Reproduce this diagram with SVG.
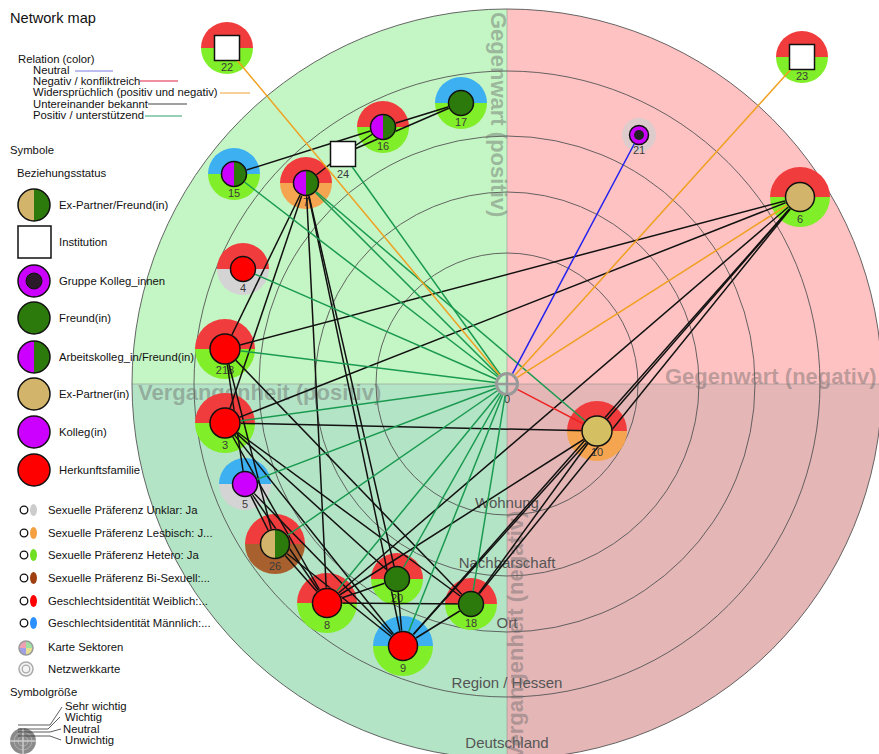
<svg xmlns="http://www.w3.org/2000/svg" xmlns:xlink="http://www.w3.org/1999/xlink" width="879" height="754" viewBox="0 0 879 754">
<style>
text{font-family:"Liberation Sans",Arial,sans-serif;}
.t{font-size:11.3px;fill:#111;}
.lbl{font-size:11px;fill:#3a3a3a;text-anchor:middle;}
.ring{fill:none;stroke:#555;stroke-width:0.9;}
.rl{font-size:15px;fill:#555;text-anchor:middle;}
.quad{font-size:22px;font-weight:bold;fill:#6a6a6a;fill-opacity:0.45;}
.e line{stroke-width:1.5;fill:none;}
.k{stroke:#111;}
.g{stroke:#1a9a50;}
.o{stroke:#f0a020;}
.b{stroke:#2222ee;}
.r{stroke:#ee2222;}
.fr{fill:#f03c3c;}
.fg{fill:#80ee28;}
.fb{fill:#3cb0f0;}
.fo{fill:#f5a550;}
.fy{fill:#d4d4d4;}
.fbr{fill:#a8602e;}
.cr{fill:#ff0000;stroke:#111;stroke-width:1.5;}
.cg{fill:#2d7a0c;stroke:#111;stroke-width:1.5;}
.cm{fill:#cc00ff;stroke:#111;stroke-width:1.5;}
.ct{fill:#d2b46a;stroke:#111;stroke-width:1.5;}
.hm{fill:#cc00ff;}
.hg{fill:#2d7a0c;}
.ht{fill:#d2b46a;}
.co{fill:none;stroke:#111;stroke-width:1.5;}
.sq{fill:#fff;stroke:#111;stroke-width:1.5;}
.lg{stroke-width:1.2;}
</style>
<defs>
<path id="t30" d="M-30,0 A30,30 0 0 1 30,0 Z"/>
<path id="b30" d="M-30,0 A30,30 0 0 0 30,0 Z"/>
<path id="t26" d="M-26,0 A26,26 0 0 1 26,0 Z"/>
<path id="b26" d="M-26,0 A26,26 0 0 0 26,0 Z"/>
<path id="L15" d="M0,-15 A15,15 0 0 0 0,15 Z"/>
<path id="R15" d="M0,-15 A15,15 0 0 1 0,15 Z"/>
<path id="L13" d="M0,-12.5 A12.5,12.5 0 0 0 0,12.5 Z"/>
<path id="R13" d="M0,-12.5 A12.5,12.5 0 0 1 0,12.5 Z"/>
<path id="L16" d="M0,-16 A16,16 0 0 0 0,16 Z"/>
<path id="R16" d="M0,-16 A16,16 0 0 1 0,16 Z"/>
<mask id="edgemask" maskUnits="userSpaceOnUse" x="0" y="0" width="879" height="754">
<rect x="0" y="0" width="879" height="754" fill="#fff"/>
<g fill="#000">
<rect x="214" y="35" width="26" height="26"/>
<rect x="789" y="44" width="26" height="26"/>
<rect x="330" y="141" width="26" height="26"/>
<circle cx="639" cy="135" r="10"/>
<circle cx="507" cy="384" r="12"/>
<circle cx="800" cy="197" r="15.5"/>
<circle cx="461" cy="103" r="13.3"/>
<circle cx="383" cy="127" r="13.3"/>
<circle cx="234" cy="174" r="13.3"/>
<circle cx="306" cy="183" r="13.3"/>
<circle cx="243" cy="269" r="13.3"/>
<circle cx="225" cy="349" r="15.7"/>
<circle cx="225" cy="423" r="15.7"/>
<circle cx="245" cy="484" r="13.3"/>
<circle cx="275" cy="544" r="15.5"/>
<circle cx="327" cy="603" r="15.5"/>
<circle cx="397" cy="579" r="13.3"/>
<circle cx="471" cy="604" r="13.3"/>
<circle cx="403" cy="646" r="15.5"/>
<circle cx="597" cy="431" r="15.7"/>
</g>
</mask>
</defs>

<rect x="0" y="0" width="879" height="754" fill="#ffffff"/>

<g id="background">
<path d="M507,384 H132 A375,375 0 0 1 507,9 Z" fill="#c4f5c4"/>
<path d="M507,384 V9 A375,375 0 0 1 882,384 Z" fill="#ffc2c2"/>
<path d="M507,384 H882 A375,375 0 0 1 507,759 Z" fill="#e4b6b6"/>
<path d="M507,384 V759 A375,375 0 0 1 132,384 Z" fill="#b4e4c6"/>
<line x1="507" y1="9" x2="507" y2="759" stroke="#888" stroke-width="1" stroke-opacity="0.5"/>
<line x1="132" y1="384" x2="882" y2="384" stroke="#888" stroke-width="1" stroke-opacity="0.5"/>
<circle class="ring" cx="507" cy="384" r="131"/>
<circle class="ring" cx="507" cy="384" r="192"/>
<circle class="ring" cx="507" cy="384" r="248"/>
<circle class="ring" cx="507" cy="384" r="313"/>
<circle class="ring" cx="507" cy="384" r="375"/>
<text class="rl" x="507" y="508">Wohnung</text>
<text class="rl" x="507" y="568">Nachbarschaft</text>
<text class="rl" x="507" y="628">Ort</text>
<text class="rl" x="507" y="688">Region / Hessen</text>
<text class="rl" x="507" y="748">Deutschland</text>
<text class="quad" transform="translate(491,12) rotate(90)">Gegenwart (positiv)</text>
<text class="quad" x="665" y="384">Gegenwart (negativ)</text>
<text class="quad" x="138" y="400">Vergangenheit (positiv)</text>
<text class="quad" transform="translate(523,760) rotate(-90)">Vergangenheit (negativ)</text>
</g>

<g id="legend">
<text class="t" x="10" y="23" style="font-size:14.6px">Network map</text>
<text class="t" x="18" y="63">Relation (color)</text>
<text class="t" x="33" y="74">Neutral</text>
<line class="lg" x1="75" y1="71" x2="113" y2="71" stroke="#7a7ae0"/>
<text class="t" x="33" y="85">Negativ / konfliktreich</text>
<line class="lg" x1="140" y1="81" x2="178" y2="81" stroke="#e02040"/>
<text class="t" x="33" y="96">Widersprüchlich (positiv und negativ)</text>
<line class="lg" x1="220" y1="93" x2="250" y2="93" stroke="#f0b050"/>
<text class="t" x="33" y="108">Untereinander bekannt</text>
<line class="lg" x1="148" y1="104" x2="187" y2="104" stroke="#444"/>
<text class="t" x="33" y="119">Positiv / unterstützend</text>
<line class="lg" x1="145" y1="116" x2="182" y2="116" stroke="#30a070"/>

<text class="t" x="10" y="154">Symbole</text>
<text class="t" x="17" y="177">Beziehungsstatus</text>
<g transform="translate(34,205)"><use href="#L16" class="ht"/><use href="#R16" class="hg"/><circle r="16" class="co"/></g>
<text class="t" x="59" y="209">Ex-Partner/Freund(in)</text>
<rect x="18" y="226" width="33" height="32" class="sq"/>
<text class="t" x="59" y="246">Institution</text>
<circle cx="34" cy="281" r="16" class="cm"/>
<circle cx="34" cy="281" r="8" fill="#2a1a2a" stroke="#111" stroke-width="1"/>
<text class="t" x="59" y="285">Gruppe Kolleg_innen</text>
<circle cx="34" cy="318" r="16" class="cg"/>
<text class="t" x="59" y="322">Freund(in)</text>
<g transform="translate(34,357)"><use href="#L16" class="hm"/><use href="#R16" class="hg"/><circle r="16" class="co"/></g>
<text class="t" x="59" y="361">Arbeitskolleg_in/Freund(in)</text>
<circle cx="34" cy="394" r="16" class="ct"/>
<text class="t" x="59" y="398">Ex-Partner(in)</text>
<circle cx="34" cy="432" r="16" class="cm"/>
<text class="t" x="59" y="436">Kolleg(in)</text>
<circle cx="34" cy="470" r="16" class="cr"/>
<text class="t" x="59" y="474">Herkunftsfamilie</text>

<g transform="translate(0,510)"><circle cx="24" cy="0" r="3.8" fill="#fff" stroke="#111" stroke-width="1.3"/><ellipse cx="33.5" cy="0" rx="3.5" ry="6" fill="#cccccc"/></g>
<text class="t" x="48" y="514">Sexuelle Präferenz Unklar: Ja</text>
<g transform="translate(0,533)"><circle cx="24" cy="0" r="3.8" fill="#fff" stroke="#111" stroke-width="1.3"/><ellipse cx="33.5" cy="0" rx="3.5" ry="6" fill="#f5a040"/></g>
<text class="t" x="48" y="537">Sexuelle Präferenz Lesbisch: J...</text>
<g transform="translate(0,555)"><circle cx="24" cy="0" r="3.8" fill="#fff" stroke="#111" stroke-width="1.3"/><ellipse cx="33.5" cy="0" rx="3.5" ry="6" fill="#70e020"/></g>
<text class="t" x="48" y="559">Sexuelle Präferenz Hetero: Ja</text>
<g transform="translate(0,578)"><circle cx="24" cy="0" r="3.8" fill="#fff" stroke="#111" stroke-width="1.3"/><ellipse cx="33.5" cy="0" rx="3.5" ry="6" fill="#a04010"/></g>
<text class="t" x="48" y="582">Sexuelle Präferenz Bi-Sexuell:...</text>
<g transform="translate(0,601)"><circle cx="24" cy="0" r="3.8" fill="#fff" stroke="#111" stroke-width="1.3"/><ellipse cx="33.5" cy="0" rx="3.5" ry="6" fill="#ff0000"/></g>
<text class="t" x="48" y="605">Geschlechtsidentität Weiblich:...</text>
<g transform="translate(0,623)"><circle cx="24" cy="0" r="3.8" fill="#fff" stroke="#111" stroke-width="1.3"/><ellipse cx="33.5" cy="0" rx="3.5" ry="6" fill="#2a90ff"/></g>
<text class="t" x="48" y="627">Geschlechtsidentität Männlich:...</text>
<g transform="translate(26,648)">
<path d="M0,0 L-7,0 A7,7 0 0 1 0,-7 Z" fill="#f0a0b0"/>
<path d="M0,0 L0,-7 A7,7 0 0 1 7,0 Z" fill="#a0e0a0"/>
<path d="M0,0 L7,0 A7,7 0 0 1 0,7 Z" fill="#e8e090"/>
<path d="M0,0 L0,7 A7,7 0 0 1 -7,0 Z" fill="#a0a0e8"/>
<circle r="7" fill="none" stroke="#999" stroke-width="1.5"/>
</g>
<text class="t" x="48" y="651">Karte Sektoren</text>
<circle cx="26" cy="669" r="7" fill="#f4f4f4" stroke="#aaa" stroke-width="1.5"/>
<circle cx="26" cy="669" r="3.8" fill="none" stroke="#aaa" stroke-width="1.3"/>
<text class="t" x="48" y="673">Netzwerkkarte</text>
<text class="t" x="10" y="696">Symbolgröße</text>
<circle cx="23" cy="741" r="13" fill="#8a8a8a"/>
<circle cx="23" cy="741" r="9" fill="none" stroke="#b0b0b0" stroke-width="1"/>
<circle cx="23" cy="741" r="5" fill="none" stroke="#b0b0b0" stroke-width="1"/>
<line x1="10" y1="741" x2="36" y2="741" stroke="#ccc" stroke-width="1.5"/>
<line x1="23" y1="728" x2="23" y2="754" stroke="#ccc" stroke-width="1.5"/>
<g fill="none" stroke="#333" stroke-width="0.8">
<polyline points="18,725 50,725 62,707"/>
<polyline points="18,729 48,729 60,717"/>
<polyline points="18,732 50,732 61,729"/>
<polyline points="18,736 50,736 61,740"/>
</g>
<text class="t" x="65" y="710">Sehr wichtig</text>
<text class="t" x="65" y="721">Wichtig</text>
<text class="t" x="63" y="733">Neutral</text>
<text class="t" x="65" y="744">Unwichtig</text>
</g>

<g id="node-22" transform="translate(227,48)"><use href="#t26" class="fr"/><use href="#b26" class="fg"/><rect x="-12.5" y="-12.5" width="25" height="25" class="sq"/><text class="lbl" y="23">22</text></g>
<g id="node-23" transform="translate(802,57)"><use href="#t26" class="fr"/><use href="#b26" class="fg"/><rect x="-12.5" y="-12.5" width="25" height="25" class="sq"/><text class="lbl" y="23">23</text></g>
<g id="node-21" transform="translate(639,135)"><circle r="17" fill="#d0d0d0" fill-opacity="0.7"/><circle r="9.5" class="cm" stroke-width="1"/><circle r="5" fill="#222"/><text class="lbl" y="19">21</text></g>
<g id="node-6" transform="translate(800,197)"><use href="#t30" class="fr"/><use href="#b30" class="fg"/><circle r="14.5" class="ct"/><text class="lbl" y="26">6</text></g>
<g id="node-17" transform="translate(461,103)"><use href="#t26" class="fb"/><use href="#b26" class="fg"/><circle r="12.5" class="cg"/><text class="lbl" y="23">17</text></g>
<g id="node-16" transform="translate(383,127)"><use href="#t26" class="fr"/><use href="#b26" class="fg"/><use href="#L13" class="hm"/><use href="#R13" class="hg"/><circle r="12.5" class="co"/><text class="lbl" y="23">16</text></g>
<g id="node-24" transform="translate(343,154)"><rect x="-12.5" y="-12.5" width="25" height="25" class="sq"/><text class="lbl" y="24">24</text></g>
<g id="node-15" transform="translate(234,174)"><use href="#t26" class="fb"/><use href="#b26" class="fg"/><use href="#L13" class="hm"/><use href="#R13" class="hg"/><circle r="12.5" class="co"/><text class="lbl" y="23">15</text></g>
<g id="node-7" transform="translate(306,183)"><use href="#t26" class="fr"/><use href="#b26" class="fo"/><use href="#L13" class="hm"/><use href="#R13" class="hg"/><circle r="12.5" class="co"/><text class="lbl" y="23">7</text></g>
<g id="node-4" transform="translate(243,269)"><use href="#t26" class="fr"/><use href="#b26" class="fy"/><circle r="12.5" class="cr"/><text class="lbl" y="23">4</text></g>
<g id="node-218" transform="translate(225,349)"><use href="#t30" class="fr"/><use href="#b30" class="fg"/><circle r="15" class="cr"/><text class="lbl" y="25">218</text></g>
<g id="node-3" transform="translate(225,423)"><use href="#t30" class="fr"/><use href="#b30" class="fg"/><circle r="15" class="cr"/><text class="lbl" y="26">3</text></g>
<g id="node-5" transform="translate(245,484)"><use href="#t26" class="fb"/><use href="#b26" class="fy"/><circle r="12.5" class="cm"/><text class="lbl" y="24">5</text></g>
<g id="node-26" transform="translate(275,544)"><use href="#t30" class="fr"/><use href="#b30" class="fbr"/><use href="#L15" class="ht"/><use href="#R15" class="hg"/><circle r="14.5" class="co"/><text class="lbl" y="26">26</text></g>
<g id="node-8" transform="translate(327,603)"><use href="#t30" class="fr"/><use href="#b30" class="fg"/><circle r="14.5" class="cr"/><text class="lbl" y="26">8</text></g>
<g id="node-20" transform="translate(397,579)"><use href="#t26" class="fr"/><use href="#b26" class="fg"/><circle r="12.5" class="cg"/><text class="lbl" y="23">20</text></g>
<g id="node-18" transform="translate(471,604)"><use href="#t26" class="fr"/><use href="#b26" class="fg"/><circle r="12.5" class="cg"/><text class="lbl" y="23">18</text></g>
<g id="node-9" transform="translate(403,646)"><use href="#t30" class="fb"/><use href="#b30" class="fg"/><circle r="14.5" class="cr"/><text class="lbl" y="26">9</text></g>
<g id="node-10" transform="translate(597,431)"><use href="#t30" class="fr"/><use href="#b30" class="fo"/><circle r="15" class="ct" style="fill:#d4c063"/><text class="lbl" y="25">10</text></g>
<g id="node-0" transform="translate(507,384)"><circle r="10.5" fill="none" stroke="#999" stroke-width="3"/><line x1="-10.5" y1="0" x2="10.5" y2="0" stroke="#999" stroke-width="2.5"/><line x1="0" y1="-10.5" x2="0" y2="10.5" stroke="#999" stroke-width="2.5"/><text class="lbl" y="19">0</text></g>

<g id="connectors" class="e" mask="url(#edgemask)">
<line class="k" x1="234" y1="174" x2="383" y2="127"/>
<line class="k" x1="383" y1="127" x2="461" y2="103"/>
<line class="k" x1="343" y1="154" x2="461" y2="103"/>
<line class="k" x1="343" y1="154" x2="383" y2="127"/>
<line class="k" x1="306" y1="183" x2="343" y2="154"/>
<line class="k" x1="306" y1="183" x2="225" y2="349"/>
<line class="k" x1="306" y1="183" x2="225" y2="423"/>
<line class="k" x1="306" y1="183" x2="327" y2="603"/>
<line class="k" x1="306" y1="183" x2="403" y2="646"/>
<line class="k" x1="306" y1="183" x2="397" y2="579"/>
<line class="k" x1="225" y1="349" x2="800" y2="197"/>
<line class="k" x1="225" y1="423" x2="800" y2="197"/>
<line class="k" x1="225" y1="423" x2="597" y2="431"/>
<line class="k" x1="800" y1="197" x2="327" y2="603"/>
<line class="k" x1="800" y1="197" x2="597" y2="431"/>
<line class="k" x1="800" y1="197" x2="471" y2="604"/>
<line class="k" x1="800" y1="197" x2="403" y2="646"/>
<line class="k" x1="597" y1="431" x2="327" y2="603"/>
<line class="k" x1="597" y1="431" x2="403" y2="646"/>
<line class="k" x1="597" y1="431" x2="471" y2="604"/>
<line class="k" x1="225" y1="349" x2="245" y2="484"/>
<line class="k" x1="225" y1="349" x2="275" y2="544"/>
<line class="k" x1="225" y1="349" x2="471" y2="604"/>
<line class="k" x1="225" y1="423" x2="397" y2="579"/>
<line class="k" x1="225" y1="423" x2="403" y2="646"/>
<line class="k" x1="225" y1="423" x2="327" y2="603"/>
<line class="k" x1="225" y1="423" x2="471" y2="604"/>
<line class="k" x1="245" y1="484" x2="327" y2="603"/>
<line class="k" x1="245" y1="484" x2="403" y2="646"/>
<line class="k" x1="245" y1="484" x2="275" y2="544"/>
<line class="k" x1="275" y1="544" x2="327" y2="603"/>
<line class="k" x1="275" y1="544" x2="403" y2="646"/>
<line class="k" x1="327" y1="603" x2="397" y2="579"/>
<line class="k" x1="327" y1="603" x2="471" y2="604"/>
<line class="k" x1="397" y1="579" x2="403" y2="646"/>
<line class="k" x1="403" y1="646" x2="471" y2="604"/>
<line class="g" x1="507" y1="384" x2="234" y2="174"/>
<line class="g" x1="507" y1="384" x2="306" y2="183"/>
<line class="g" x1="507" y1="384" x2="343" y2="154"/>
<line class="g" x1="507" y1="384" x2="243" y2="269"/>
<line class="g" x1="507" y1="384" x2="225" y2="349"/>
<line class="g" x1="507" y1="384" x2="225" y2="423"/>
<line class="g" x1="507" y1="384" x2="245" y2="484"/>
<line class="g" x1="507" y1="384" x2="275" y2="544"/>
<line class="g" x1="507" y1="384" x2="327" y2="603"/>
<line class="g" x1="507" y1="384" x2="397" y2="579"/>
<line class="g" x1="507" y1="384" x2="403" y2="646"/>
<line class="g" x1="507" y1="384" x2="471" y2="604"/>
<line class="g" x1="306" y1="183" x2="597" y2="431"/>
<line class="o" x1="507" y1="384" x2="227" y2="48"/>
<line class="o" x1="507" y1="384" x2="802" y2="57"/>
<line class="o" x1="507" y1="384" x2="800" y2="197"/>
<line class="b" x1="507" y1="384" x2="639" y2="135"/>
<line class="r" x1="507" y1="384" x2="597" y2="431"/>
</g>
</svg>
